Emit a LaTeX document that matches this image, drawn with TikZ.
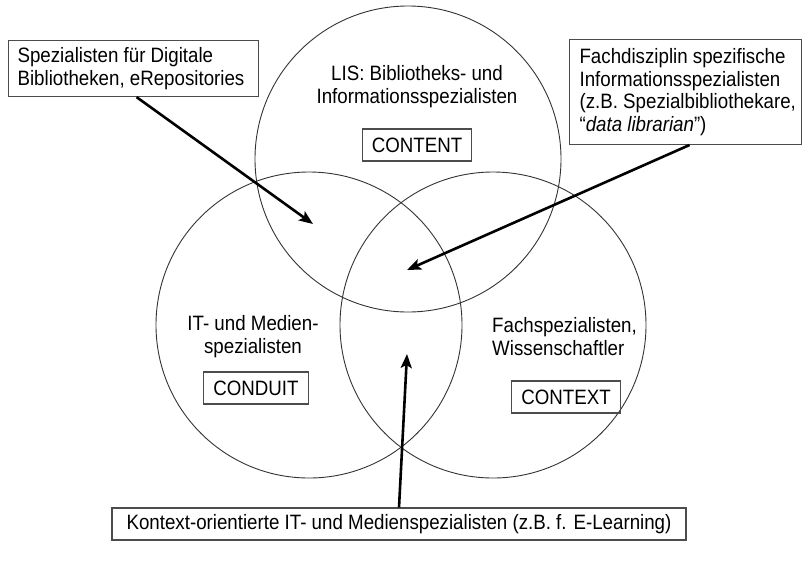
\documentclass[tikz,border=0pt]{standalone}
\usepackage{fontspec}
\setmainfont{Liberation Sans}[FakeStretch=0.9]
\usetikzlibrary{arrows.meta}

\tikzset{
	lbl/.style={inner sep=0pt, font=\fontsize{20.8}{23}\selectfont},
	tagbox/.style={draw=black!70, line width=1.1pt, minimum height=32pt, inner xsep=9.5pt, inner ysep=0pt, font=\fontsize{20.8}{23}\selectfont},
	notebox/.style={draw=black!70, line width=1.1pt, anchor=north west, align=flush left, font=\fontsize{20.8}{22.5}\selectfont},
	pointer/.style={-{Stealth[length=14pt, width=11pt, inset=3pt]}, line width=2.6pt, black}
}

\begin{document}
\begin{tikzpicture}[x=1pt, y=-1pt]

	\newcommand{\rad}{153}
	\useasboundingbox (0,0) rectangle (803,566);

	% the three sets
	\coordinate (cTop) at (408,159);
	\coordinate (cLeft) at (309,325);
	\coordinate (cRight) at (493,325);
	\draw[black!80, line width=0.9pt] (cTop) circle[radius=\rad];
	\draw[black!80, line width=0.9pt] (cLeft) circle[radius=\rad];
	\draw[black!80, line width=0.9pt] (cRight) circle[radius=\rad];

	% labels inside the circles
	\node[lbl, align=center] (lis) at (417,87) {LIS: Bibliotheks- und\\Informationsspezialisten};
	\node[tagbox] (content) at (417,145) {CONTENT};

	\node[lbl, align=center] (medien) at (253,337) {IT- und Medien-\\spezialisten};
	\node[tagbox] (conduit) at (256,388) {CONDUIT};

	\node[lbl, align=left, anchor=west] (fach) at (492,337) {Fachspezialisten,\\Wissenschaftler};
	\node[tagbox] (context) at (566,397) {CONTEXT};

	% outside notes
	\node[notebox, text width=232pt, minimum height=56pt, inner xsep=9pt, inner ysep=7pt] (digital) at (8,40) {Spezialisten für Digitale\\Bibliotheken, eRepositories};
	\node[notebox, text width=222pt, minimum height=104pt, inner xsep=5pt, inner ysep=9pt] (disziplin) at (569,39) {\hspace*{5pt}Fachdisziplin spezifische\\\hspace*{5pt}Informationsspezialisten\\\hspace*{5pt}(z.B. Spezialbibliothekare,\\\hspace*{5pt}“\textit{data librarian}”)};
	\node[tagbox, minimum width=574pt] (kontext) at (399,524) {Kontext-orientierte IT- und Medienspezialisten (z.B. f. E-Learning)};

	% arrow targets
	\coordinate (tDigital) at (313,224);
	\coordinate (tDisziplin) at (407,270);
	\coordinate (tKontext) at (407,354);

	\draw[pointer] ([xshift=3pt]digital.south) -- (tDigital);
	\draw[pointer] ([xshift=4pt]disziplin.south) -- (tDisziplin);
	\draw[pointer] (kontext.north) -- (tKontext);

\end{tikzpicture}
\end{document}
